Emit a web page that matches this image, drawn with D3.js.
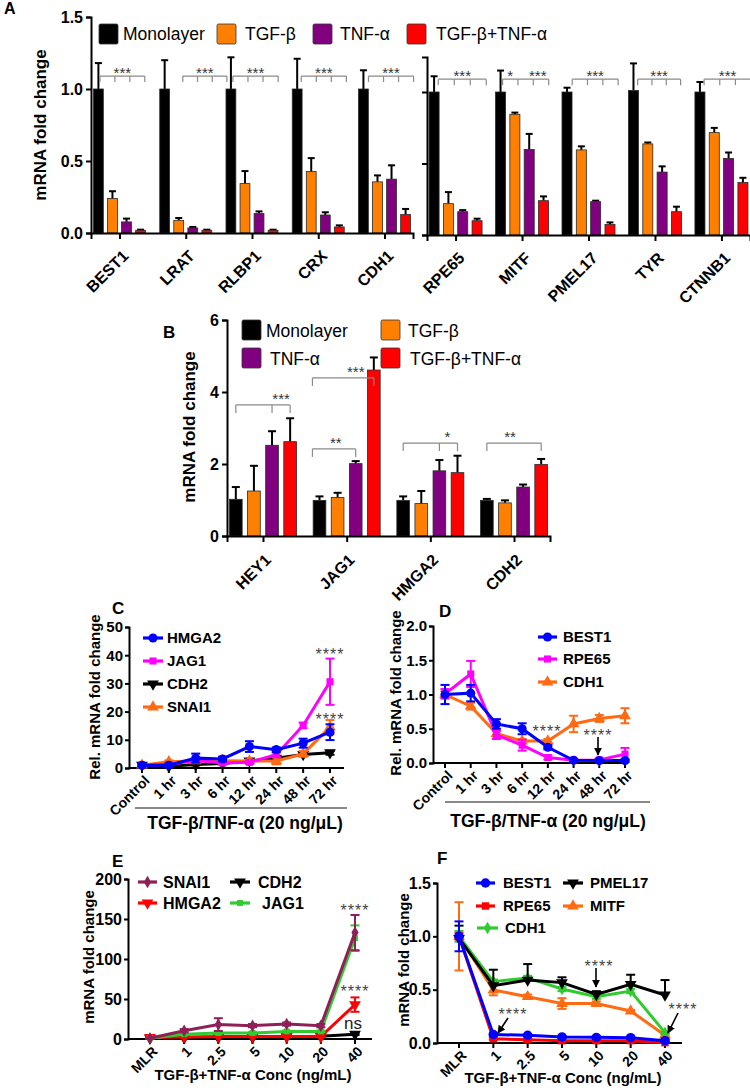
<!DOCTYPE html>
<html><head><meta charset="utf-8">
<script src="https://cdn.jsdelivr.net/npm/d3@7"></script>
<style>body{margin:0;background:#fff} svg{display:block} text{font-family:"Liberation Sans",Arial,Helvetica,sans-serif}</style>
</head><body>
<script>
// ================= DATA =================
const groupNames = ["Monolayer","TGF-β","TNF-α","TGF-β+TNF-α"];

// Panel A (left block)
const aGenesLeft = ["BEST1","LRAT","RLBP1","CRX","CDH1"];
const aMeansLeft = [
  [1.00,0.240,0.077,0.019],
  [1.00,0.088,0.035,0.019],
  [1.00,0.343,0.135,0.019],
  [1.00,0.427,0.125,0.042],
  [1.00,0.355,0.374,0.128]];
const aErrLeft = [
  [0.18,0.050,0.023,0.004],
  [0.20,0.016,0.007,0.004],
  [0.22,0.087,0.015,0.004],
  [0.21,0.093,0.019,0.011],
  [0.13,0.045,0.096,0.039]];
const aBracketsLeft = [
  {gene:"BEST1", from:0.11, to:3.30, level:1.09, label:"***"},
  {gene:"LRAT",  from:1.29, to:4.43, level:1.09, label:"***"},
  {gene:"RLBP1", from:0.14, to:3.36, level:1.09, label:"***"},
  {gene:"CRX",   from:0.29, to:3.50, level:1.09, label:"***"},
  {gene:"CDH1",  from:0.36, to:3.57, level:1.09, label:"***"}];

// Panel A (right block)
const aGenesRight = ["RPE65","MITF","PMEL17","TYR","CTNNB1"];
const aMeansRight = [
  [1.00,0.219,0.163,0.100],
  [1.00,0.844,0.598,0.240],
  [1.00,0.595,0.233,0.074],
  [1.01,0.637,0.440,0.163],
  [1.00,0.716,0.535,0.367]];
const aErrRight = [
  [0.11,0.081,0.011,0.014],
  [0.15,0.012,0.109,0.030],
  [0.03,0.025,0.007,0.014],
  [0.19,0.010,0.040,0.035],
  [0.07,0.033,0.042,0.033]];
const aBracketsRight = [
  {gene:"RPE65",  from:0.29, to:3.64, level:1.09, label:"***"},
  {gene:"MITF",   from:0.14, to:3.36, level:1.09, label:"*",   labelPos:0.67},
  {gene:"MITF",   from:0.14, to:3.36, level:1.09, label:"***", labelPos:2.6, noLine:true},
  {gene:"PMEL17", from:0.36, to:3.57, level:1.09, label:"***"},
  {gene:"TYR",    from:0.29, to:3.29, level:1.09, label:"***"},
  {gene:"CTNNB1", from:0.29, to:3.57, level:1.09, label:"***"}];
const aTicks = [0,0.5,1.0,1.5];
const aRightTicks = [0,0.5,1.0];

// Panel B
const bGenes = ["HEY1","JAG1","HMGA2","CDH2"];
const bMeans = [
  [1.02,1.25,2.52,2.62],
  [0.99,1.07,2.01,4.61],
  [0.99,0.90,1.81,1.76],
  [0.99,0.92,1.36,1.99]];
const bErr = [
  [0.34,0.70,0.39,0.65],
  [0.11,0.13,0.07,0.35],
  [0.11,0.35,0.30,0.47],
  [0.04,0.07,0.07,0.15]];
const bBrackets = [
  {gene:"HEY1",  from:0,     to:3, ticks:[0,2,3],     level:3.64, label:"***", labelPos:2.5},
  {gene:"JAG1",  from:-0.39, to:2, ticks:[-0.39,2],   level:2.42, label:"**",  labelPos:0.9},
  {gene:"JAG1",  from:-0.39, to:3, ticks:[-0.39,3],   level:4.39, label:"***", labelPos:2.0},
  {gene:"HMGA2", from:0,     to:3, ticks:[0,2,3],     level:2.58, label:"*",   labelPos:2.44},
  {gene:"CDH2",  from:0,     to:3, ticks:[0,3],       level:2.58, label:"**",  labelPos:1.28}];
const bTicks = [0,2,4,6];

// Panels C & D (time course)
const timeLabels = ["Control","1 hr","3 hr","6 hr","12 hr","24 hr","48 hr","72 hr"];
const cHMGA2 = [1.0,1.0,3.5,3.2,7.6,6.5,8.8,12.7];
const cHMGA2Err = [0.5,0.5,1.6,0.8,1.9,0.8,1.6,2.8];
const cJAG1 = [1.0,1.2,2.7,1.8,2.0,4.7,15.1,30.6];
const cJAG1Err = [0.3,0.3,0.5,0.4,0.5,0.8,1.0,8.2];
const cCDH2 = [1.0,0.6,1.2,1.6,2.5,3.5,4.8,5.4];
const cCDH2Err = [0.2,0.2,0.3,0.3,0.4,0.5,0.6,0.7];
const cSNAI1 = [1.0,2.2,2.5,2.6,2.5,2.5,5.0,14.5];
const cSNAI1Err = [0.3,0.5,0.5,0.5,0.5,1.2,1.0,2.5];
const cTicks = [0,10,20,30,40,50];

const dBEST1 = [1.00,1.02,0.57,0.50,0.23,0.04,0.035,0.035];
const dBEST1Err = [0.14,0.12,0.07,0.08,0.03,0.02,0.02,0.02];
const dRPE65 = [1.01,1.30,0.41,0.26,0.08,0.04,0.045,0.13];
const dRPE65Err = [0.07,0.19,0.06,0.08,0.03,0.02,0.02,0.09];
const dCDH1 = [1.00,0.83,0.43,0.32,0.32,0.57,0.65,0.69];
const dCDH1Err = [0.05,0.05,0.04,0.03,0.03,0.12,0.05,0.11];
const dTicks = [0,0.5,1.0,1.5,2.0];

// Panels E & F (concentration)
const concLabels = ["MLR","1","2.5","5","10","20","40"];
const eSNAI1 = [1,10.4,18,16.7,18.7,16.7,133];
const eSNAI1Err = [0.5,2,8,2,2,2,22];
const eJAG1 = [1,6,7.5,7.5,9.5,9.5,126];
const eJAG1Err = [0.5,1,1,1,1,1,16];
const eHMGA2 = [2,2.5,3,3,3,3,43];
const eHMGA2Err = [0.5,0.5,0.5,0.5,0.5,0.5,9];
const eCDH2 = [1,1.5,2,2,3,3.5,6];
const eCDH2Err = [0.2,0.2,0.3,0.3,0.3,0.4,1];
const eTicks = [0,50,100,150,200];

const fBEST1 = [1.0,0.08,0.072,0.057,0.053,0.05,0.022];
const fBEST1Err = [0.14,0.01,0.01,0.01,0.01,0.01,0.01];
const fRPE65 = [1.0,0.04,0.03,0.022,0.022,0.022,0.003];
const fRPE65Err = [0.03,0.01,0.01,0.01,0.01,0.01,0.01];
const fCDH1 = [1.0,0.575,0.61,0.506,0.434,0.487,0.097];
const fCDH1Err = [0.05,0.02,0.02,0.02,0.02,0.02,0.01];
const fPMEL17 = [0.98,0.537,0.59,0.566,0.456,0.55,0.45];
const fPMEL17Err = [0.12,0.15,0.15,0.05,0.03,0.09,0.14];
const fMITF = [1.0,0.497,0.434,0.37,0.37,0.30,0.072];
const fMITFErr = [0.32,0.05,0.02,0.05,0.02,0.01,0.01];
const fTicks = [0,0.5,1.0,1.5];

// ================= DRAWING =================
const svg = d3.select("body").append("svg").attr("width",750).attr("height",1091);
const defs = svg.append("defs");
defs.append("marker").attr("id","arrow").attr("viewBox","0 0 10 10").attr("refX",9).attr("refY",5)
  .attr("markerWidth",5).attr("markerHeight",5).attr("orient","auto")
  .append("path").attr("d","M0,0 L10,5 L0,10 z").attr("fill","#000");

const barColors = ["#000000","#FF8000","#800080","#FF0000"];

function styleAxis(sel, fs){
  sel.selectAll("path,line").attr("stroke","#000").attr("stroke-width",2);
  sel.selectAll("text").attr("font-size",fs).attr("font-weight","bold").attr("fill","#000");
}

function rotLabels(g, scale, cats, axisY, fs, dx, dy){
  g.append("g").selectAll("text").data(cats).join("text")
    .attr("transform", d => `translate(${scale(d)+dx},${axisY+dy}) rotate(-45)`)
    .attr("text-anchor","end").attr("dy","0.35em")
    .attr("font-size",fs).attr("font-weight","bold").text(d=>d);
}

function barPanel(cfg){
  const g = svg.append("g");
  const x0 = d3.scalePoint().domain(cfg.genes).range(cfg.xRange).padding(cfg.pad);
  const x1 = d3.scaleBand().domain(d3.range(4)).range([-cfg.gw/2,cfg.gw/2]).paddingInner(cfg.pi);
  const y = cfg.y;
  const bw = x1.bandwidth(), step = x1.step();
  const posX = (gene,p) => x0(gene) + x1(0) + bw/2 + p*step;
  const flat = [];
  cfg.genes.forEach((gene,i)=> cfg.means[i].forEach((v,j)=> flat.push({gene,j,v,e:cfg.errs[i][j]})));
  const eb = g.append("g").selectAll("g").data(flat).join("g");
  eb.append("line").attr("x1",d=>posX(d.gene,d.j)).attr("x2",d=>posX(d.gene,d.j))
    .attr("y1",d=>y(d.v)).attr("y2",d=>y(d.v+d.e)).attr("stroke","#000").attr("stroke-width",2);
  eb.append("line").attr("x1",d=>posX(d.gene,d.j)-cfg.cap).attr("x2",d=>posX(d.gene,d.j)+cfg.cap)
    .attr("y1",d=>y(d.v+d.e)).attr("y2",d=>y(d.v+d.e)).attr("stroke","#000").attr("stroke-width",2);
  g.append("g").selectAll("rect").data(flat).join("rect")
    .attr("x",d=>x0(d.gene)+x1(d.j)).attr("y",d=>y(d.v))
    .attr("width",bw).attr("height",d=>y(0)-y(d.v))
    .attr("fill",d=>barColors[d.j]).attr("stroke","#2a2a2a").attr("stroke-width",0.8);
  const ya = g.append("g").attr("transform",`translate(${cfg.xRange[0]},0)`)
    .call(d3.axisLeft(y).tickValues(cfg.yTicks).tickSizeOuter(0).tickSize(5)
      .tickFormat(cfg.showLabels ? cfg.fmt : ""));
  styleAxis(ya, cfg.tickFs);
  const xa = g.append("g").attr("transform",`translate(0,${y(0)})`)
    .call(d3.axisBottom(x0).tickSizeOuter(0).tickSize(6).tickFormat(""));
  styleAxis(xa, cfg.tickFs);
  rotLabels(g, x0, cfg.genes, y(0), cfg.labelFs, cfg.ldx, cfg.ldy);
  const bg = g.append("g");
  cfg.brackets.forEach(b=>{
    const by = y(b.level);
    const lp = b.labelPos !== undefined ? b.labelPos : (b.from+b.to)/2;
    bg.append("text").attr("x",posX(b.gene,lp)).attr("y",by+cfg.starDy)
      .attr("text-anchor","middle").attr("font-size",cfg.starFs).attr("fill","#333").text(b.label);
    if(b.noLine) return;
    bg.append("line").attr("x1",posX(b.gene,b.from)).attr("x2",posX(b.gene,b.to)).attr("y1",by).attr("y2",by)
      .attr("stroke","#8a8a8a").attr("stroke-width",1.2);
    const ticks = b.ticks || d3.range(4).map(k=> b.from + k*(b.to-b.from)/3);
    ticks.forEach(t=>{
      bg.append("line").attr("x1",posX(b.gene,t)).attr("x2",posX(b.gene,t))
        .attr("y1",by).attr("y2",by+cfg.bTick).attr("stroke","#8a8a8a").attr("stroke-width",1.2);
    });
  });
  return {g,x0,y};
}

// ---------- Panel A ----------
svg.append("text").attr("x",4).attr("y",14).attr("font-size",16).attr("font-weight","bold").text("A");
const yAL = d3.scaleLinear().domain([0,1.5]).range([233,17]);
barPanel({genes:aGenesLeft, means:aMeansLeft, errs:aErrLeft, xRange:[91,413], pad:0.43, gw:52, pi:0.3,
  y:yAL, yTicks:aTicks, showLabels:true, fmt:d3.format(".1f"), tickFs:16, labelFs:16, ldx:6, ldy:20,
  cap:3.5, brackets:aBracketsLeft, bTick:6, starDy:2, starFs:15});
const yAR = d3.scaleLinear().domain([0,1.245]).range([235,235-1.245*143]);
barPanel({genes:aGenesRight, means:aMeansRight, errs:aErrRight, xRange:[427,750], pad:0.43, gw:53, pi:0.3,
  y:yAR, yTicks:aRightTicks, showLabels:false, fmt:d3.format(".1f"), tickFs:16, labelFs:16, ldx:6, ldy:20,
  cap:3.5, brackets:aBracketsRight, bTick:6, starDy:2, starFs:15});
svg.append("text").attr("transform","translate(46,125) rotate(-90)").attr("text-anchor","middle")
  .attr("font-size",17).attr("font-weight","bold").text("mRNA fold change");
const legA = [[99,123],[217,245],[313,340],[407,436]];
groupNames.forEach((n,i)=>{
  svg.append("rect").attr("x",legA[i][0]).attr("y",24).attr("width",19).attr("height",20).attr("rx",1.5)
    .attr("fill",barColors[i]).attr("stroke","#333").attr("stroke-width",0.8);
  svg.append("text").attr("x",legA[i][1]).attr("y",40).attr("font-size",17.5).text(n);
});

// ---------- Panel B ----------
svg.append("text").attr("x",163).attr("y",338).attr("font-size",17).attr("font-weight","bold").text("B");
const yB = d3.scaleLinear().domain([0,6]).range([536,320]);
barPanel({genes:bGenes, means:bMeans, errs:bErr, xRange:[227,550], pad:0.43, gw:67, pi:0.3,
  y:yB, yTicks:bTicks, showLabels:true, fmt:d3.format("d"), tickFs:16, labelFs:16, ldx:5, ldy:21,
  cap:4, brackets:bBrackets, bTick:8, starDy:-1, starFs:15});
svg.append("text").attr("transform","translate(195,427) rotate(-90)").attr("text-anchor","middle")
  .attr("font-size",17).attr("font-weight","bold").text("mRNA fold change");
const legB = [[242,320,266],[381,320,408],[242,348,270],[381,348,410]];
groupNames.forEach((n,i)=>{
  svg.append("rect").attr("x",legB[i][0]).attr("y",legB[i][1]).attr("width",19).attr("height",20).attr("rx",1.5)
    .attr("fill",barColors[i]).attr("stroke","#333").attr("stroke-width",0.8);
  svg.append("text").attr("x",legB[i][2]).attr("y",legB[i][1]+17).attr("font-size",17.5).text(n);
});

// ---------- Line panels ----------
const symDown = {draw(ctx,size){ const s=Math.sqrt(size/0.433); const h=s*0.866;
  ctx.moveTo(-s/2,-h/3); ctx.lineTo(s/2,-h/3); ctx.lineTo(0,2*h/3); ctx.closePath(); }};
const symUp = {draw(ctx,size){ const s=Math.sqrt(size/0.433); const h=s*0.866;
  ctx.moveTo(-s/2,h/3); ctx.lineTo(s/2,h/3); ctx.lineTo(0,-2*h/3); ctx.closePath(); }};
const markerTypes = {circle:d3.symbolCircle, square:d3.symbolSquare, diamond:d3.symbolDiamond, up:symUp, down:symDown};

function linePanel(cfg){
  const g = svg.append("g");
  const x = d3.scalePoint().domain(cfg.cats).range(cfg.pts);
  const y = cfg.y;
  const ya = g.append("g").attr("transform",`translate(${cfg.axisX[0]},0)`)
    .call(d3.axisLeft(y).tickValues(cfg.yTicks).tickSizeOuter(0).tickSize(4).tickPadding(2).tickFormat(cfg.fmt));
  styleAxis(ya, cfg.tickFs);
  const xa = g.append("g").attr("transform",`translate(0,${y(0)})`);
  xa.append("line").attr("x1",cfg.axisX[0]).attr("x2",cfg.axisX[1]).attr("y1",0).attr("y2",0)
    .attr("stroke","#000").attr("stroke-width",2);
  xa.selectAll("line.t").data(cfg.cats).join("line").attr("class","t")
    .attr("x1",d=>x(d)).attr("x2",d=>x(d)).attr("y1",0).attr("y2",5).attr("stroke","#000").attr("stroke-width",2);
  rotLabels(g, x, cfg.cats, y(0), cfg.labelFs, cfg.ldx, cfg.ldy);
  const line = d3.line().x((d,i)=>x(cfg.cats[i])).y(d=>y(d));
  cfg.series.forEach(s=>{
    const sg = g.append("g");
    sg.append("path").datum(s.vals).attr("d",line).attr("fill","none").attr("stroke",s.color).attr("stroke-width",3);
    const eb = sg.selectAll("g.e").data(s.vals.map((v,i)=>({v,e:s.err[i],c:cfg.cats[i]}))).join("g");
    eb.append("line").attr("x1",d=>x(d.c)).attr("x2",d=>x(d.c))
      .attr("y1",d=> s.upOnly ? y(d.v) : y(Math.max(0,d.v-d.e))).attr("y2",d=>y(d.v+d.e))
      .attr("stroke",s.color).attr("stroke-width",2);
    eb.append("line").attr("x1",d=>x(d.c)-4.5).attr("x2",d=>x(d.c)+4.5)
      .attr("y1",d=>y(d.v+d.e)).attr("y2",d=>y(d.v+d.e)).attr("stroke",s.color).attr("stroke-width",2);
    if(!s.upOnly){
      eb.append("line").attr("x1",d=>x(d.c)-4.5).attr("x2",d=>x(d.c)+4.5)
        .attr("y1",d=>y(Math.max(0,d.v-d.e))).attr("y2",d=>y(Math.max(0,d.v-d.e))).attr("stroke",s.color).attr("stroke-width",2);
    }
    sg.selectAll("path.m").data(s.vals).join("path").attr("class","m")
      .attr("transform",(d,i)=>`translate(${x(cfg.cats[i])},${y(d)})`)
      .attr("d",d3.symbol(markerTypes[s.marker], s.msize||60)).attr("fill",s.color);
  });
  cfg.legend.forEach(l=>{
    const s = cfg.series.find(q=>q.name===l.name);
    g.append("line").attr("x1",l.x0).attr("x2",l.x1).attr("y1",l.y).attr("y2",l.y).attr("stroke",s.color).attr("stroke-width",3.2);
    g.append("path").attr("transform",`translate(${(l.x0+l.x1)/2},${l.y})`)
      .attr("d",d3.symbol(markerTypes[s.marker], s.msize||60)).attr("fill",s.color);
    g.append("text").attr("x",l.tx).attr("y",l.y).attr("dy","0.36em").attr("font-size",cfg.legFs)
      .attr("font-weight","bold").text(s.name);
  });
  return {g,x,y};
}

function stars(x,y,fs){
  svg.append("text").attr("x",x).attr("y",y).attr("text-anchor","middle").attr("font-size",fs||16)
    .attr("letter-spacing",1).attr("fill","#444").text("****");
}
function arrow(x1,y1,x2,y2){
  svg.append("line").attr("x1",x1).attr("y1",y1).attr("x2",x2).attr("y2",y2)
    .attr("stroke","#000").attr("stroke-width",1.6).attr("marker-end","url(#arrow)");
}

// ---------- Panel C ----------
svg.append("text").attr("x",112).attr("y",614).attr("font-size",17).attr("font-weight","bold").text("C");
linePanel({cats:timeLabels, pts:[142,330], axisX:[129,344],
  y:d3.scaleLinear().domain([0,50]).range([768,627]), yTicks:cTicks, fmt:d3.format("d"), tickFs:15,
  labelFs:14, ldx:5, ldy:10, legFs:15,
  series:[
    {name:"CDH2", vals:cCDH2, err:cCDH2Err, color:"#000000", marker:"down"},
    {name:"SNAI1", vals:cSNAI1, err:cSNAI1Err, color:"#FF6A13", marker:"up"},
    {name:"JAG1", vals:cJAG1, err:cJAG1Err, color:"#FF00FF", marker:"square", msize:50},
    {name:"HMGA2", vals:cHMGA2, err:cHMGA2Err, color:"#0000FF", marker:"circle", msize:65}],
  legend:[
    {name:"HMGA2", x0:143, x1:163, y:638, tx:167},
    {name:"JAG1", x0:143, x1:163, y:661, tx:167},
    {name:"CDH2", x0:143, x1:163, y:684, tx:167},
    {name:"SNAI1", x0:143, x1:163, y:707, tx:167}]});
stars(330,660,16); stars(330,725,16);
svg.append("line").attr("x1",135).attr("x2",347).attr("y1",808).attr("y2",808).attr("stroke","#888").attr("stroke-width",2);
svg.append("text").attr("x",245).attr("y",829).attr("text-anchor","middle").attr("font-size",17.5).attr("font-weight","bold").text("TGF-β/TNF-α (20 ng/μL)");
svg.append("text").attr("transform","translate(100,697) rotate(-90)").attr("text-anchor","middle")
  .attr("font-size",15).attr("font-weight","bold").text("Rel. mRNA fold change");

// ---------- Panel D ----------
svg.append("text").attr("x",439).attr("y",617).attr("font-size",17).attr("font-weight","bold").text("D");
linePanel({cats:timeLabels, pts:[445,625], axisX:[433,628],
  y:d3.scaleLinear().domain([0,2]).range([763,626]), yTicks:dTicks, fmt:d3.format(".1f"), tickFs:15,
  labelFs:14, ldx:5, ldy:10, legFs:15,
  series:[
    {name:"CDH1", vals:dCDH1, err:dCDH1Err, color:"#FF6A13", marker:"up"},
    {name:"RPE65", vals:dRPE65, err:dRPE65Err, color:"#FF00FF", marker:"square", msize:50},
    {name:"BEST1", vals:dBEST1, err:dBEST1Err, color:"#0000FF", marker:"circle", msize:65}],
  legend:[
    {name:"BEST1", x0:538, x1:557, y:637, tx:563},
    {name:"RPE65", x0:538, x1:557, y:659, tx:563},
    {name:"CDH1", x0:538, x1:557, y:682, tx:563}]});
stars(547,737,16); stars(598,741,16);
arrow(598,737,598,755);
svg.append("line").attr("x1",445).attr("x2",650).attr("y1",802).attr("y2",802).attr("stroke","#888").attr("stroke-width",2);
svg.append("text").attr("x",548).attr("y",827).attr("text-anchor","middle").attr("font-size",17.5).attr("font-weight","bold").text("TGF-β/TNF-α (20 ng/μL)");
svg.append("text").attr("transform","translate(401,693) rotate(-90)").attr("text-anchor","middle")
  .attr("font-size",15).attr("font-weight","bold").text("Rel. mRNA fold change");

// ---------- Panel E ----------
svg.append("text").attr("x",112).attr("y",867).attr("font-size",17).attr("font-weight","bold").text("E");
linePanel({cats:concLabels, pts:[150,355], axisX:[128,372],
  y:d3.scaleLinear().domain([0,200]).range([1039,879]), yTicks:eTicks, fmt:d3.format("d"), tickFs:16,
  labelFs:14, ldx:5, ldy:10, legFs:16,
  series:[
    {name:"CDH2", vals:eCDH2, err:eCDH2Err, color:"#000000", marker:"down"},
    {name:"HMGA2", vals:eHMGA2, err:eHMGA2Err, color:"#FF0000", marker:"down"},
    {name:"JAG1", vals:eJAG1, err:eJAG1Err, color:"#2ECC2E", marker:"square", msize:35},
    {name:"SNAI1", vals:eSNAI1, err:eSNAI1Err, color:"#8E1F57", marker:"diamond", msize:45}],
  legend:[
    {name:"SNAI1", x0:138, x1:157, y:882, tx:163},
    {name:"CDH2", x0:230, x1:250, y:882, tx:258},
    {name:"HMGA2", x0:138, x1:157, y:903, tx:163},
    {name:"JAG1", x0:230, x1:250, y:903, tx:262}]});
stars(355,916,16); stars(355,997,16);
svg.append("text").attr("x",353).attr("y",1029).attr("text-anchor","middle").attr("font-size",17).attr("fill","#222").text("ns");
svg.append("text").attr("x",253).attr("y",1080).attr("text-anchor","middle").attr("font-size",15).attr("font-weight","bold").text("TGF-β+TNF-α Conc (ng/mL)");
svg.append("text").attr("transform","translate(94,957) rotate(-90)").attr("text-anchor","middle")
  .attr("font-size",15).attr("font-weight","bold").text("mRNA fold change");

// ---------- Panel F ----------
svg.append("text").attr("x",437).attr("y",864).attr("font-size",17).attr("font-weight","bold").text("F");
linePanel({cats:concLabels, pts:[459,665], axisX:[437,682],
  y:d3.scaleLinear().domain([0,1.5]).range([1043,883]), yTicks:fTicks, fmt:d3.format(".1f"), tickFs:16,
  labelFs:14, ldx:5, ldy:10, legFs:15,
  series:[
    {name:"MITF", vals:fMITF, err:fMITFErr, color:"#FF6A13", marker:"up"},
    {name:"CDH1", vals:fCDH1, err:fCDH1Err, color:"#2ECC2E", marker:"diamond", msize:45},
    {name:"PMEL17", vals:fPMEL17, err:fPMEL17Err, color:"#000000", marker:"down", upOnly:true},
    {name:"RPE65", vals:fRPE65, err:fRPE65Err, color:"#FF0000", marker:"square", msize:55},
    {name:"BEST1", vals:fBEST1, err:fBEST1Err, color:"#0000FF", marker:"circle", msize:70}],
  legend:[
    {name:"BEST1", x0:476, x1:495, y:883, tx:503},
    {name:"PMEL17", x0:563, x1:583, y:883, tx:590},
    {name:"RPE65", x0:476, x1:495, y:906, tx:503},
    {name:"MITF", x0:563, x1:583, y:906, tx:590},
    {name:"CDH1", x0:477, x1:498, y:928, tx:505}]});
stars(599,972,16); arrow(596,968,596,987);
stars(513,1020,16); arrow(508,1018,498,1033);
stars(683,1015,16); arrow(678,1013,668,1033);
svg.append("text").attr("x",563).attr("y",1083).attr("text-anchor","middle").attr("font-size",15).attr("font-weight","bold").text("TGF-β+TNF-α Conc (ng/mL)");
svg.append("text").attr("transform","translate(409,960) rotate(-90)").attr("text-anchor","middle")
  .attr("font-size",15).attr("font-weight","bold").text("mRNA fold change");
</script>
</body></html>
